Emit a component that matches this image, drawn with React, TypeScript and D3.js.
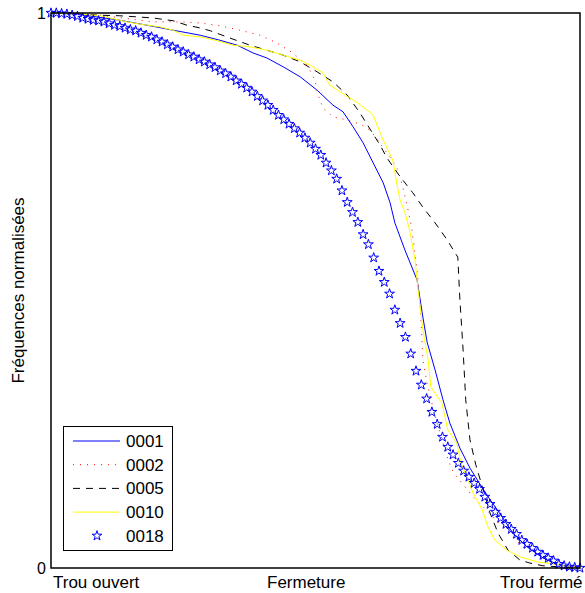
import React from "react";
import * as d3 from "d3";

// ---- data (x: fraction along closing, y: normalised frequency) ----
const s0001X = [0, 0.049, 0.13, 0.187, 0.231, 0.282, 0.319, 0.352, 0.382, 0.408, 0.439, 0.471, 0.503, 0.533, 0.552, 0.571, 0.59, 0.609, 0.628, 0.641, 0.65, 0.669, 0.692, 0.703, 0.711, 0.726, 0.741, 0.754, 0.773, 0.792, 0.811, 0.83, 0.853, 0.873, 0.9, 0.93, 0.962, 0.994, 1];
const s0001Y = [1, 0.998, 0.987, 0.977, 0.969, 0.96, 0.951, 0.942, 0.928, 0.919, 0.903, 0.885, 0.861, 0.834, 0.822, 0.795, 0.766, 0.73, 0.694, 0.658, 0.622, 0.573, 0.519, 0.452, 0.407, 0.357, 0.303, 0.261, 0.216, 0.18, 0.151, 0.123, 0.092, 0.063, 0.038, 0.018, 0.005, 0.002, 0];

const s0002X = [0, 0.093, 0.193, 0.244, 0.282, 0.319, 0.357, 0.395, 0.427, 0.457, 0.484, 0.499, 0.505, 0.514, 0.533, 0.552, 0.571, 0.588, 0.603, 0.618, 0.631, 0.645, 0.656, 0.665, 0.673, 0.681, 0.688, 0.694, 0.698, 0.701, 0.703, 0.711, 0.72, 0.73, 0.739, 0.749, 0.758, 0.769, 0.783, 0.798, 0.817, 0.836, 0.854, 0.873, 0.892, 0.919, 0.943, 0.975, 1];
const s0002Y = [1, 0.996, 0.984, 0.984, 0.982, 0.977, 0.969, 0.96, 0.946, 0.928, 0.906, 0.879, 0.852, 0.829, 0.813, 0.809, 0.804, 0.798, 0.789, 0.771, 0.753, 0.735, 0.717, 0.686, 0.654, 0.618, 0.568, 0.519, 0.47, 0.416, 0.375, 0.333, 0.297, 0.261, 0.231, 0.2, 0.177, 0.162, 0.146, 0.128, 0.11, 0.092, 0.074, 0.056, 0.038, 0.02, 0.009, 0.002, 0];

const s0005X = [0, 0.055, 0.093, 0.13, 0.163, 0.193, 0.231, 0.257, 0.282, 0.301, 0.338, 0.376, 0.408, 0.439, 0.471, 0.503, 0.533, 0.56, 0.584, 0.603, 0.622, 0.635, 0.66, 0.684, 0.703, 0.726, 0.749, 0.769, 0.773, 0.779, 0.784, 0.792, 0.803, 0.817, 0.83, 0.845, 0.864, 0.887, 0.905, 0.93, 0.962, 1];
const s0005Y = [1, 0.998, 0.996, 0.995, 0.993, 0.991, 0.986, 0.978, 0.973, 0.968, 0.955, 0.942, 0.933, 0.924, 0.912, 0.894, 0.876, 0.852, 0.82, 0.791, 0.762, 0.739, 0.705, 0.676, 0.65, 0.622, 0.591, 0.56, 0.483, 0.393, 0.303, 0.231, 0.186, 0.141, 0.099, 0.063, 0.032, 0.014, 0.009, 0.004, 0.002, 0];

const s0010X = [0, 0.055, 0.093, 0.144, 0.168, 0.206, 0.231, 0.25, 0.282, 0.314, 0.344, 0.376, 0.408, 0.439, 0.471, 0.49, 0.514, 0.527, 0.556, 0.58, 0.609, 0.626, 0.646, 0.656, 0.66, 0.669, 0.679, 0.688, 0.694, 0.703, 0.713, 0.718, 0.739, 0.75, 0.767, 0.775, 0.786, 0.798, 0.815, 0.826, 0.839, 0.862, 0.887, 0.919, 0.953, 0.991, 1];
const s0010Y = [1, 0.998, 0.995, 0.984, 0.98, 0.975, 0.969, 0.96, 0.957, 0.95, 0.942, 0.939, 0.933, 0.924, 0.915, 0.906, 0.892, 0.87, 0.852, 0.838, 0.816, 0.775, 0.735, 0.681, 0.663, 0.641, 0.604, 0.555, 0.501, 0.429, 0.375, 0.326, 0.297, 0.249, 0.225, 0.189, 0.164, 0.135, 0.105, 0.074, 0.05, 0.032, 0.02, 0.011, 0.007, 0.002, 0];

// 0018: one value per sample, 101 samples evenly spread along the closing
const s0018Y = [1, 1, 0.999, 0.998, 0.996, 0.994, 0.991, 0.989, 0.987, 0.986, 0.984, 0.981, 0.978, 0.976, 0.973, 0.97, 0.968, 0.964, 0.96, 0.957, 0.952, 0.948, 0.943, 0.939, 0.934, 0.93, 0.925, 0.921, 0.916, 0.912, 0.907, 0.902, 0.896, 0.891, 0.885, 0.878, 0.872, 0.865, 0.858, 0.85, 0.842, 0.834, 0.825, 0.816, 0.808, 0.8, 0.792, 0.784, 0.775, 0.766, 0.755, 0.744, 0.73, 0.716, 0.701, 0.68, 0.659, 0.641, 0.623, 0.601, 0.583, 0.559, 0.535, 0.515, 0.494, 0.465, 0.441, 0.416, 0.386, 0.355, 0.33, 0.305, 0.281, 0.259, 0.236, 0.218, 0.204, 0.189, 0.175, 0.164, 0.153, 0.142, 0.128, 0.115, 0.101, 0.09, 0.079, 0.07, 0.061, 0.05, 0.043, 0.036, 0.029, 0.023, 0.018, 0.013, 0.007, 0.004, 0.002, 0.001, 0];

const legendLabels = ["0001", "0002", "0005", "0010", "0018"];
const xTickLabels = ["Trou ouvert", "Fermeture", "Trou fermé"];
const yTickLabels = ["0", "1"];
const yTitle = "Fréquences normalisées";

const W = 585;
const H = 593;
const L = 51, R = 580, T = 13, B = 568;
const FONT = "Liberation Sans, Arial, Helvetica, sans-serif";

export default function App() {
  const x = d3.scaleLinear().domain([0, 1]).range([L, R]);
  const y = d3.scaleLinear().domain([0, 1]).range([B, T]);
  const xi = d3.scaleLinear().domain([0, s0018Y.length - 1]).range([L, R]);
  const line = d3.line<[number, number]>().x((d) => x(d[0])).y((d) => y(d[1]));
  const mk = (xs: number[], ys: number[]) => line(xs.map((v, i) => [v, ys[i]] as [number, number])) || "";
  const star = d3.symbol().type(d3.symbolStar).size(30)() || "";

  const series = [
    { d: mk(s0001X, s0001Y), color: "#0000ff", dash: undefined as string | undefined },
    { d: mk(s0002X, s0002Y), color: "#ff0000", dash: "1,6" },
    { d: mk(s0005X, s0005Y), color: "#000000", dash: "7,6" },
    { d: mk(s0010X, s0010Y), color: "#ffff00", dash: undefined },
  ];

  const legY0 = 441;
  const legStep = 23.7;

  return (
    <svg width={W} height={H} style={{ position: "absolute", left: 0, top: 0, background: "#fff" }} fontFamily={FONT}>
      <rect x={0} y={0} width={W} height={H} fill="#fff" />
      <defs>
        <clipPath id="plotclip">
          <rect x={L - 6} y={T - 6} width={R - L + 12} height={B - T + 12} />
        </clipPath>
      </defs>
      <g clipPath="url(#plotclip)">
        {series.map((s, i) => (
          <path key={i} d={s.d} fill="none" stroke={s.color} strokeWidth={1} strokeDasharray={s.dash} />
        ))}
        {s0018Y.map((v, i) => (
          <path key={"s" + i} d={star} transform={`translate(${xi(i)},${y(v)})`} fill="none" stroke="#0000ff" strokeWidth={1} />
        ))}
      </g>
      {/* axes box */}
      <rect x={L} y={T} width={R - L} height={B - T} fill="none" stroke="#000" strokeWidth={1.5} />

      {/* y tick labels */}
      <text x={46} y={y(1) + 6} fontSize={16} textAnchor="end">{yTickLabels[1]}</text>
      <text x={46} y={y(0) + 6} fontSize={16} textAnchor="end">{yTickLabels[0]}</text>

      {/* x tick labels */}
      <text x={53} y={588} fontSize={17}>{xTickLabels[0]}</text>
      <text x={267} y={588} fontSize={17}>{xTickLabels[1]}</text>
      <text x={500} y={588} fontSize={17}>{xTickLabels[2]}</text>

      {/* y title */}
      <text transform={`translate(24,${(T + B) / 2}) rotate(-90)`} fontSize={17} textAnchor="middle">{yTitle}</text>

      {/* legend */}
      <rect x={63.5} y={426.5} width={109} height={124} fill="#fff" stroke="#000" strokeWidth={1} />
      {legendLabels.map((lab, i) => {
        const cy = legY0 + i * legStep;
        return (
          <g key={lab}>
            {i < 4 ? (
              <line x1={73} x2={120} y1={cy} y2={cy} stroke={series[i].color} strokeWidth={1} strokeDasharray={series[i].dash} />
            ) : (
              <path d={star} transform={`translate(97,${cy})`} fill="none" stroke="#0000ff" strokeWidth={1} />
            )}
            <text x={126} y={cy + 6} fontSize={17}>{lab}</text>
          </g>
        );
      })}
    </svg>
  );
}
